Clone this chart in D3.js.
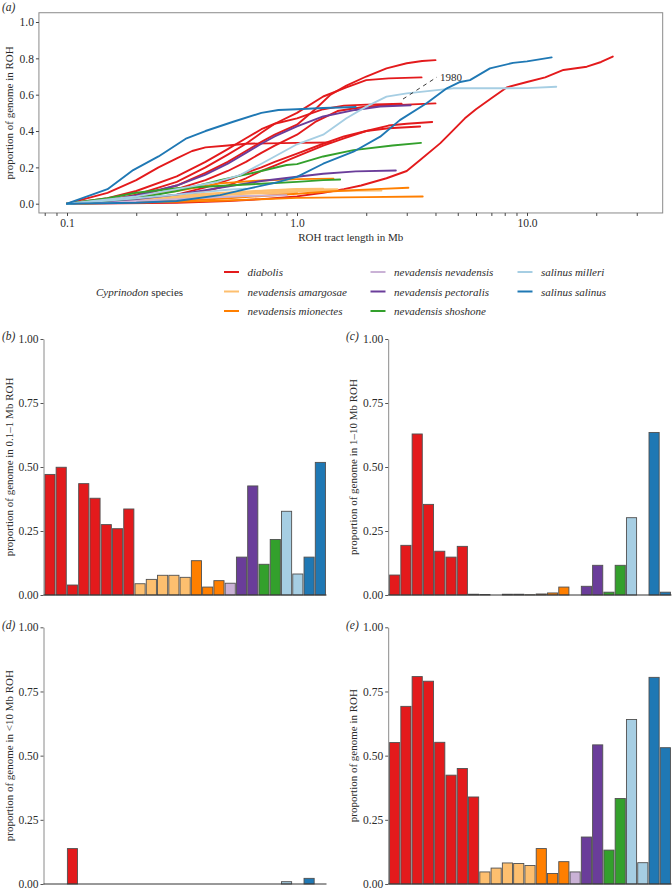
<!DOCTYPE html>
<html><head><meta charset="utf-8">
<script src="https://cdn.jsdelivr.net/npm/d3@7"></script>
<style>
body{margin:0;background:#fff}
svg{display:block}
text{font-family:"Liberation Serif","Times New Roman",serif;fill:#2b2b2b}
</style>
</head><body>
<svg id="c" width="672" height="891"></svg>
<script>
// ---------------- data ----------------
const species = ["diabolis","nevadensis amargosae","nevadensis mionectes","nevadensis nevadensis",
                 "nevadensis pectoralis","nevadensis shoshone","salinus milleri","salinus salinus"];
const palette = ["#E31A1C","#FDBF6F","#FF7F00","#CAB2D6","#6A3D9A","#33A02C","#A6CEE3","#1F78B4"];
// species index of each of the 25 individuals (bar order)
const individualSpecies = [0,0,0,0,0,0,0,0, 1,1,1,1,1, 2,2,2, 3, 4,4, 5,5, 6,6, 7,7];

const roh01to1 = [0.471,0.499,0.039,0.435,0.378,0.275,0.259,0.336, 0.044,0.061,0.077,0.077,0.069,
                  0.134,0.031,0.056, 0.046, 0.148,0.426, 0.120,0.217, 0.327,0.082, 0.148,0.518];
const roh1to10 = [0.078,0.194,0.629,0.354,0.171,0.148,0.190,0.003, 0.002,0,0.003,0.003,0.001,
                  0.004,0.008,0.031, 0, 0.034,0.116, 0.011,0.116, 0.302,0, 0.635,0.011];
const rohOver10 = [0,0,0.138,0,0,0,0,0, 0,0,0,0,0, 0,0,0, 0, 0,0, 0,0, 0.009,0, 0.022,0];
const rohTotal = [0.551,0.692,0.808,0.790,0.552,0.424,0.450,0.339, 0.047,0.062,0.082,0.080,0.072,
                  0.138,0.041,0.087, 0.047, 0.183,0.542, 0.132,0.333, 0.641,0.083, 0.805,0.531];

// cumulative ROH curves: [tract length Mb, cumulative proportion]
const curves = [
 [[0.1,0],[0.15,0.03],[0.2,0.07],[0.3,0.15],[0.4,0.23],[0.5,0.3],[0.6,0.36],[0.7,0.41],[0.8,0.44],[1.0,0.47],[1.3,0.52],[1.6,0.54],[2.0,0.545],[2.85,0.55]],
 [[0.1,0],[0.15,0.02],[0.2,0.05],[0.3,0.12],[0.4,0.2],[0.5,0.27],[0.6,0.33],[0.7,0.39],[0.8,0.44],[1.0,0.5],[1.3,0.59],[1.64,0.64],[2.0,0.68],[2.5,0.69],[3.48,0.695]],
 [[0.1,0],[0.3,0.005],[0.5,0.015],[0.7,0.025],[1.0,0.04],[1.3,0.06],[1.6,0.08],[1.9,0.1],[2.45,0.14],[3.0,0.18],[3.43,0.24],[4.19,0.332],[4.63,0.387],[5.37,0.47],[6.0,0.52],[7.0,0.58],[8.16,0.64],[10,0.67],[12,0.695],[14.4,0.736],[18.2,0.754],[21,0.78],[23.6,0.81]],
 [[0.1,0],[0.15,0.015],[0.2,0.04],[0.3,0.1],[0.4,0.17],[0.5,0.23],[0.6,0.29],[0.7,0.34],[0.8,0.38],[1.0,0.435],[1.2,0.52],[1.4,0.6],[1.64,0.65],[2.0,0.7],[2.45,0.745],[3.0,0.773],[3.5,0.785],[4.0,0.79]],
 [[0.1,0],[0.15,0.01],[0.2,0.03],[0.3,0.08],[0.4,0.13],[0.5,0.18],[0.6,0.23],[0.7,0.28],[0.8,0.32],[1.0,0.38],[1.2,0.45],[1.5,0.51],[2.0,0.535],[3.0,0.545],[4.0,0.552]],
 [[0.1,0],[0.2,0.02],[0.3,0.05],[0.4,0.09],[0.5,0.13],[0.6,0.17],[0.7,0.2],[0.8,0.23],[1.0,0.275],[1.3,0.33],[1.6,0.37],[2.0,0.4],[2.5,0.415],[3.43,0.425]],
 [[0.1,0],[0.2,0.015],[0.3,0.04],[0.4,0.07],[0.5,0.1],[0.6,0.14],[0.7,0.18],[0.8,0.21],[1.0,0.26],[1.3,0.32],[1.6,0.36],[2.0,0.4],[2.5,0.43],[3.0,0.44],[3.87,0.45]],
 [[0.1,0],[0.15,0.06],[0.2,0.13],[0.25,0.2],[0.3,0.25],[0.35,0.29],[0.4,0.31],[0.5,0.32],[0.6,0.33],[1.0,0.335],[1.4,0.337]],
 [[0.1,0],[0.2,0.015],[0.4,0.032],[0.6,0.042],[0.9,0.047]],
 [[0.1,0],[0.2,0.02],[0.4,0.042],[0.6,0.055],[1.0,0.062]],
 [[0.1,0],[0.2,0.03],[0.4,0.055],[0.7,0.072],[1.0,0.081],[1.3,0.083]],
 [[0.1,0],[0.2,0.025],[0.4,0.05],[0.7,0.07],[1.0,0.078],[1.5,0.08]],
 [[0.1,0],[0.2,0.02],[0.4,0.045],[0.7,0.062],[1.0,0.07],[2.33,0.072]],
 [[0.1,0],[0.2,0.04],[0.3,0.07],[0.463,0.112],[0.7,0.128],[1.0,0.135],[1.44,0.138]],
 [[0.1,0],[0.3,0.01],[0.5,0.018],[1.0,0.032],[2.0,0.036],[3.52,0.04]],
 [[0.1,0],[0.3,0.015],[0.5,0.03],[1.0,0.055],[1.5,0.07],[2.2,0.08],[3.05,0.088]],
 [[0.1,0],[0.2,0.015],[0.4,0.032],[0.6,0.042],[0.9,0.047]],
 [[0.1,0],[0.2,0.025],[0.3,0.05],[0.4,0.075],[0.5,0.095],[0.7,0.125],[1.0,0.148],[1.3,0.165],[1.8,0.178],[2.69,0.183]],
 [[0.1,0],[0.15,0.02],[0.2,0.045],[0.3,0.1],[0.4,0.16],[0.5,0.22],[0.6,0.28],[0.7,0.33],[0.8,0.37],[1.0,0.425],[1.3,0.48],[1.79,0.516],[2.3,0.535],[3.12,0.542]],
 [[0.1,0],[0.15,0.03],[0.2,0.06],[0.3,0.085],[0.5,0.1],[0.7,0.11],[1.0,0.12],[1.3,0.13],[1.54,0.133]],
 [[0.1,0],[0.2,0.03],[0.3,0.07],[0.463,0.13],[0.7,0.18],[0.9,0.213],[1.0,0.218],[1.3,0.26],[1.76,0.295],[2.6,0.32],[3.46,0.335]],
 [[0.1,0],[0.2,0.04],[0.3,0.08],[0.45,0.12],[0.565,0.157],[0.7,0.22],[1.0,0.327],[1.3,0.38],[1.64,0.47],[2.0,0.534],[2.45,0.589],[3.0,0.607],[4.77,0.635],[10,0.636],[13.4,0.644]],
 [[0.1,0],[0.2,0.03],[0.3,0.05],[0.4,0.065],[0.5,0.077],[0.6,0.083]],
 [[0.1,0],[0.2,0.005],[0.3,0.015],[0.463,0.047],[0.6,0.08],[0.8,0.115],[1.0,0.148],[1.3,0.22],[1.76,0.286],[2.3,0.369],[2.8,0.46],[3.66,0.553],[4.48,0.635],[5.12,0.67],[5.65,0.68],[6.9,0.745],[8.7,0.775],[10,0.783],[12.8,0.805]],
 [[0.1,0],[0.15,0.08],[0.194,0.185],[0.25,0.26],[0.331,0.36],[0.4,0.4],[0.528,0.451],[0.7,0.5],[0.83,0.516],[1.0,0.52],[1.3,0.527],[1.8,0.532]]
];
const yTicksA = [0,0.2,0.4,0.6,0.8,1.0];
const xTicksA = [0.08,0.09,0.1,0.2,0.3,0.4,0.5,0.6,0.7,0.8,0.9,1,2,3,4,5,6,7,8,9,10,20,30];
const xLabelsA = [0.1,1,10];
const yTicksBar = [0,0.25,0.5,0.75,1];
const annotation = {label:"1980", from:[2.89,0.576], to:[4.06,0.697]};

// ---------------- drawing ----------------
const svg = d3.select("#c");
const color = i => palette[individualSpecies[i]];

// ---- panel (a)
const xA = d3.scaleLog().domain([0.1,10]).range([67,527]);
const yA = d3.scaleLinear().domain([0,1]).range([203.7,22]);
const fl = xA(0.0755), fr = xA(38.9), ft = yA(1.051), fb = yA(-0.051);
const gA = svg.append("g");
gA.append("rect").attr("x",fl).attr("y",ft).attr("width",fr-fl).attr("height",fb-ft)
  .attr("fill","none").attr("stroke","#8a8a8a").attr("stroke-width",1);

const yAxisA = d3.axisLeft(yA).tickValues(yTicksA).tickFormat(d3.format(".1f")).tickSize(3).tickSizeOuter(0).tickPadding(2);
gA.append("g").attr("transform",`translate(${fl},0)`).call(yAxisA)
  .call(g=>{g.select(".domain").remove();g.selectAll("line").attr("stroke","#444");
           g.selectAll("text").style("font-size","11.5px").attr("fill","#2b2b2b");});
const xAxisA = d3.axisBottom(xA).tickValues(xTicksA)
  .tickFormat(d=> xLabelsA.includes(d) ? d3.format(".1f")(d) : "").tickSize(3).tickSizeOuter(0).tickPadding(3);
gA.append("g").attr("transform",`translate(0,${fb})`).call(xAxisA)
  .call(g=>{g.select(".domain").remove();g.selectAll("line").attr("stroke","#444");
           g.selectAll("text").style("font-size","11.5px").attr("fill","#2b2b2b");});

const line = d3.line().x(d=>xA(d[0])).y(d=>yA(d[1]));
gA.append("g").selectAll("path").data(curves).join("path")
  .attr("d",line).attr("fill","none").attr("stroke",(d,i)=>color(i))
  .attr("stroke-width",1.9).attr("stroke-linejoin","round").attr("stroke-linecap","round");

gA.append("line").attr("x1",xA(annotation.from[0])).attr("y1",yA(annotation.from[1]))
  .attr("x2",xA(annotation.to[0])).attr("y2",yA(annotation.to[1]))
  .attr("stroke","#222").attr("stroke-width",0.9).attr("stroke-dasharray","4,4");
gA.append("text").attr("x",xA(annotation.to[0])+3).attr("y",yA(annotation.to[1])+4)
  .style("font-size","11px").text(annotation.label);

gA.append("text").attr("transform",`translate(13,${(ft+fb)/2}) rotate(-90)`).attr("text-anchor","middle")
  .style("font-size","11px").text("proportion of genome in ROH");
gA.append("text").attr("x",(fl+fr)/2).attr("y",241).attr("text-anchor","middle")
  .style("font-size","11px").text("ROH tract length in Mb");
svg.append("text").attr("x",2).attr("y",11).style("font-size","11.5px").style("font-style","italic").text("(a)");

// ---- legend
const lg = svg.append("g");
const ltitle = lg.append("text").attr("x",96).attr("y",296).style("font-size","11px");
ltitle.append("tspan").style("font-style","italic").text("Cyprinodon");
ltitle.append("tspan").text(" species");
const colX = [224,370.5,517.5], rowY = [272,291.5,311];
species.forEach((s,i)=>{
  const c = Math.floor(i/3), r = i%3;
  lg.append("line").attr("x1",colX[c]).attr("x2",colX[c]+15).attr("y1",rowY[r]).attr("y2",rowY[r])
    .attr("stroke",palette[i]).attr("stroke-width",2);
  lg.append("text").attr("x",colX[c]+23.5).attr("y",rowY[r]+4).style("font-size","11px")
    .style("font-style","italic").text(s);
});

// ---- bar panels
function barPanel(values, x0, x1, yTop, yBot, label, tag, tagX, tagY, titleX){
  const g = svg.append("g");
  const x = d3.scaleBand().domain(d3.range(values.length)).range([x0,x1]).paddingInner(0.1).paddingOuter(0.05);
  const y = d3.scaleLinear().domain([0,1]).range([yBot,yTop]);
  g.selectAll("rect").data(values).join("rect")
    .attr("x",(d,i)=>x(i)).attr("width",x.bandwidth())
    .attr("y",d=>y(d)).attr("height",d=>y(0)-y(d))
    .attr("fill",(d,i)=>color(i)).attr("stroke","#505050").attr("stroke-width",0.9);
  const ax = d3.axisLeft(y).tickValues(yTicksBar).tickFormat(d3.format(".2f")).tickSize(3).tickSizeOuter(0).tickPadding(2);
  g.append("g").attr("transform",`translate(${x0-0.8},0)`).call(ax)
    .call(a=>{a.select(".domain").attr("stroke","#8a8a8a");a.selectAll("line").attr("stroke","#555");
             a.selectAll("text").style("font-size","11.5px").attr("fill","#2b2b2b");});
  g.append("line").attr("x1",x0-0.8).attr("x2",x1+0.5).attr("y1",y(0)).attr("y2",y(0))
    .attr("stroke","#333").attr("stroke-width",1);
  g.append("text").attr("transform",`translate(${titleX},${(yTop+yBot)/2}) rotate(-90)`)
    .attr("text-anchor","middle").style("font-size","11px").text(label);
  svg.append("text").attr("x",tagX).attr("y",tagY).style("font-size","11.5px").style("font-style","italic").text(tag);
}
barPanel(roh01to1, 44.3, 326, 339, 595, "proportion of genome in 0.1–1 Mb ROH", "(b)", 2, 340, 13);
barPanel(roh1to10, 389, 671, 339, 595, "proportion of genome in 1–10 Mb ROH", "(c)", 346, 340, 357);
barPanel(rohOver10, 44.3, 326, 627.3, 884, "proportion of genome in <10 Mb ROH", "(d)", 2, 629, 13);
barPanel(rohTotal, 389, 671, 627.3, 884, "proportion of genome in ROH", "(e)", 346, 629, 357);
</script>
</body></html>
